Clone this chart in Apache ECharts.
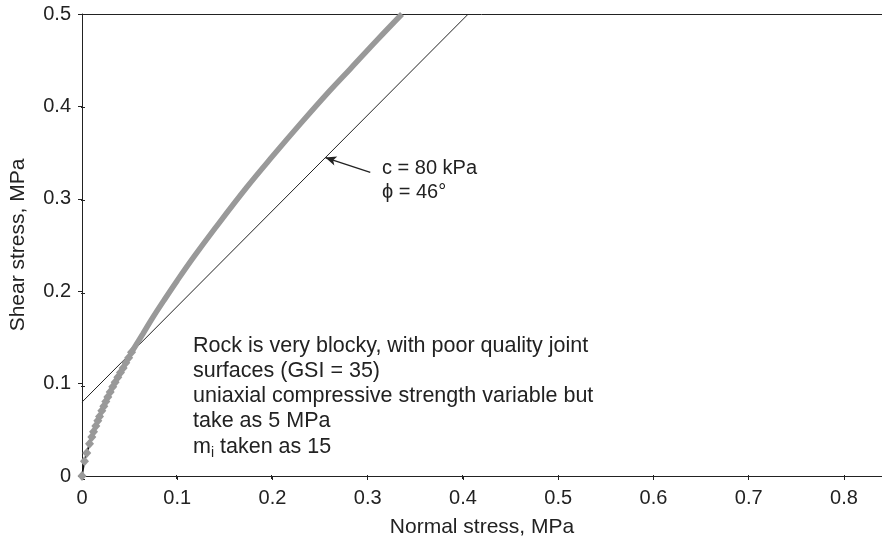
<!DOCTYPE html>
<html>
<head>
<meta charset="utf-8">
<script src="https://cdn.jsdelivr.net/npm/echarts@6/dist/echarts.min.js"></script>
<style>
  html, body { margin: 0; padding: 0; background: #fff; }
  #chart { width: 882px; height: 543px; }
</style>
</head>
<body>
<div id="chart"></div>
<script>
// Hoek-Brown envelope, lower part (drawn as separate diamonds)
const lowerSigma = [0, 0.0026, 0.005, 0.0079, 0.0103, 0.0121, 0.0145, 0.0166, 0.0184, 0.0208, 0.0229,
  0.025, 0.0271, 0.0296, 0.0323, 0.0348, 0.0376, 0.0404, 0.0432, 0.046, 0.049, 0.052];
const lowerTau = [0, 0.016, 0.025, 0.035, 0.0423, 0.048, 0.054, 0.0598, 0.0645, 0.0705, 0.0755,
  0.0805, 0.0855, 0.091, 0.0965, 0.1015, 0.107, 0.112, 0.117, 0.1225, 0.128, 0.134];
// upper part (diamonds merge into a solid band)
const upperSigma = [0.052, 0.064, 0.074, 0.086, 0.1, 0.117, 0.14, 0.173, 0.2, 0.23, 0.26, 0.282, 0.31, 0.336];
const upperTau = [0.134, 0.154, 0.171, 0.19, 0.2115, 0.2365, 0.2685, 0.3125, 0.346, 0.382, 0.4168, 0.441, 0.472, 0.5];
// Mohr-Coulomb line, c = 80 kPa, phi = 46 deg
const mcSigma = [0, 0.4056];
const mcTau = [0.08, 0.5];
// arrow from label to line
const arrowFrom = [0.3027, 0.3287];
const arrowTo = [0.2555, 0.3446];

const xTicks = [0, 0.1, 0.2, 0.3, 0.4, 0.5, 0.6, 0.7, 0.8];
const yTicks = [0, 0.1, 0.2, 0.3, 0.4, 0.5];

const FONT = "'Liberation Sans', Arial, sans-serif";
const INK = "#222";
const GREY = "#999";

const zip = (a, b) => a.map((v, i) => [v, b[i]]);

const chart = echarts.init(document.getElementById("chart"), null, { renderer: "canvas" });

const gridBox = { left: 81, right: 0, top: 14, bottom: 64 };
const xRange = { type: "value", min: 0, max: 0.84, interval: 0.1 };
const yRange = { type: "value", min: 0, max: 0.5, interval: 0.1 };
const line = { show: true, lineStyle: { color: INK, width: 1 } };

chart.setOption({
  animation: false,
  backgroundColor: "#fff",
  grid: [gridBox, gridBox],
  xAxis: [
    {
      ...xRange, gridIndex: 0, position: "bottom",
      axisLine: line,
      axisTick: { show: true, inside: false, length: 4, lineStyle: { color: INK } },
      axisLabel: {
        color: INK, fontSize: 20, fontFamily: FONT, margin: 12, showMaxLabel: false,
        formatter: (v) => (xTicks.some((t) => Math.abs(t - v) < 1e-9) ? String(+v.toFixed(1)) : ""),
      },
      splitLine: { show: false },
      name: "Normal stress, MPa", nameLocation: "middle", nameGap: 41,
      nameTextStyle: { color: INK, fontSize: 21, fontFamily: FONT },
    },
    {
      ...xRange, gridIndex: 1, position: "bottom",
      axisLine: { show: false },
      axisTick: { show: true, inside: true, length: 4, lineStyle: { color: INK } },
      axisLabel: { show: false }, splitLine: { show: false },
    },
    {
      ...xRange, gridIndex: 1, position: "top",
      axisLine: line, axisTick: { show: false }, axisLabel: { show: false }, splitLine: { show: false },
    },
  ],
  yAxis: [
    {
      ...yRange, gridIndex: 0, position: "left",
      axisLine: line,
      axisTick: { show: true, inside: false, length: 4, lineStyle: { color: INK } },
      axisLabel: {
        color: INK, fontSize: 20, fontFamily: FONT, margin: 11,
        formatter: (v) => (yTicks.some((t) => Math.abs(t - v) < 1e-9) ? String(+v.toFixed(1)) : ""),
      },
      splitLine: { show: false },
      name: "Shear stress, MPa", nameLocation: "middle", nameGap: 53,
      nameTextStyle: { color: INK, fontSize: 21, fontFamily: FONT },
    },
    {
      ...yRange, gridIndex: 1, position: "left",
      axisLine: { show: false },
      axisTick: { show: true, inside: true, length: 4, lineStyle: { color: INK } },
      axisLabel: { show: false }, splitLine: { show: false },
    },
  ],
  series: [
    {
      type: "line", xAxisIndex: 0, yAxisIndex: 0,
      data: zip(mcSigma, mcTau), showSymbol: false, symbol: "none",
      lineStyle: { color: INK, width: 1 },
      markLine: {
        silent: true, symbol: ["none", "arrow"], symbolSize: [7, 11],
        label: { show: false },
        lineStyle: { color: INK, width: 1.3, type: "solid" },
        data: [[{ coord: arrowFrom }, { coord: arrowTo }]],
      },
    },
    {
      type: "line", xAxisIndex: 0, yAxisIndex: 0,
      data: zip(lowerSigma, lowerTau), symbol: "none",
      lineStyle: { color: "#111", width: 1.6 },
    },
    {
      type: "scatter", xAxisIndex: 0, yAxisIndex: 0, z: 3,
      data: zip(lowerSigma, lowerTau), symbol: "diamond", symbolSize: [9, 10],
      itemStyle: { color: GREY, opacity: 1 },
    },
    {
      type: "line", xAxisIndex: 0, yAxisIndex: 0,
      data: zip(upperSigma, upperTau), symbol: "none", smooth: 0.4,
      lineStyle: { color: GREY, width: 5.5 },
    },
  ],
  graphic: [
    {
      type: "text", left: 382, top: 156,
      style: { text: "c = 80 kPa\n\u03d5 = 46°", fill: INK, fontSize: 20, fontFamily: FONT, lineHeight: 24 },
    },
    {
      type: "text", left: 193, top: 333,
      style: {
        text: "Rock is very blocky, with poor quality joint\nsurfaces (GSI = 35)\n" +
          "uniaxial compressive strength variable but\ntake as 5 MPa\nm{sub|i} taken as 15",
        fill: INK, fontSize: 21.5, fontFamily: FONT, lineHeight: 25.3,
        rich: { sub: { fontSize: 14, fontFamily: FONT, fill: INK, padding: [12, 0, 0, 0], lineHeight: 25.3 } },
      },
    },
  ],
});
</script>
</body>
</html>
